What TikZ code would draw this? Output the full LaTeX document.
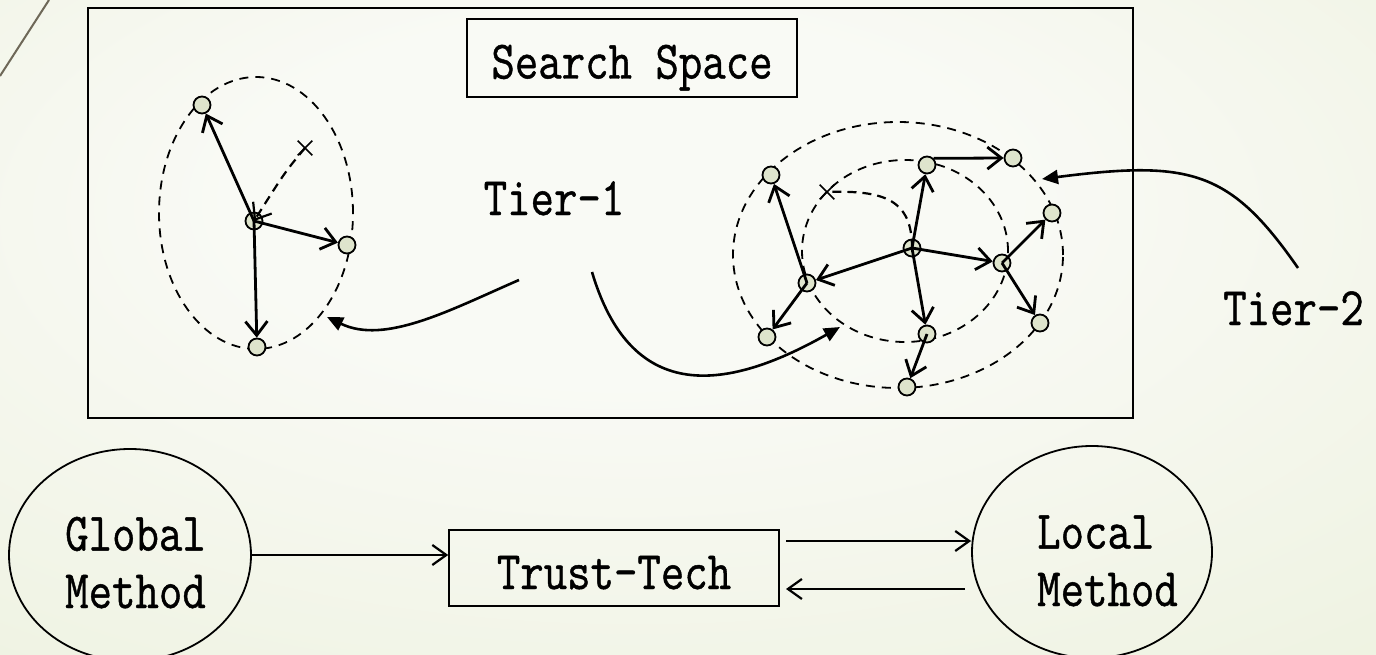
\documentclass[tikz,border=0pt]{standalone}
\usepackage{fontspec}
\usepackage{graphicx}
\usetikzlibrary{arrows.meta,shapes.geometric,shapes.misc,calc}
\newfontfamily\labelfont{Latin Modern Mono}[FakeBold=0.9]
\newcommand{\tallbox}[1]{\scalebox{1}[1.19]{#1}}
% two stacked lines, the lower baseline sits on the node's base
\newcommand{\twolines}[3]{\tallbox{\parbox[b]{160pt}{\raggedright\baselineskip=#3 #1\\#2}}}
\definecolor{bgouter}{RGB}{224,232,199}
\definecolor{bginner}{RGB}{249,250,245}
\definecolor{dotfill}{RGB}{222,228,204}
\pgfdeclareradialshading{bgglow}{\pgfpoint{-3bp}{12bp}}{%
  color(0bp)=(bginner); color(14bp)=(bginner); color(78bp)=(bgouter)}
\tikzset{
  dot/.style={circle,draw,line width=1.8pt,fill=dotfill,minimum size=17pt,inner sep=0pt},
  link/.style={line width=2.8pt,-{Straight Barb[length=14pt,width=22pt]}},
  trail/.style={line width=2.2pt,dash pattern=on 9pt off 6pt},
  zone/.style={line width=1.8pt,dash pattern=on 9pt off 7pt},
  miss/.style={cross out,draw,line width=1.6pt,minimum size=13pt,inner sep=0pt},
  txt/.style={font=\fontsize{45.5}{50}\selectfont\labelfont,inner sep=0pt},
  pointer/.style={line width=2.6pt,-{Triangle[length=16pt,width=14pt]}},
  flow/.style={line width=2.2pt,-{Straight Barb[length=14pt,width=20pt]}},
}
\begin{document}
\begin{tikzpicture}[x=1pt,y=-1pt]
\useasboundingbox (0,0) rectangle (1376,655);
% backdrop
\shade[shading=bgglow] (0,0) rectangle (1376,655);
\draw[line width=2pt,color={rgb,255:red,110;green,104;blue,88}] (49,0) -- (0,76);

% search space frame
\draw[line width=2pt] (88,8) rectangle (1133,418);
\node[txt,draw,line width=1.6pt,anchor=base,minimum width=330pt,text height=59.5pt,text depth=18.5pt] (space) at (632,78.5) {\tallbox{Search Space}};

% first cluster
\draw[zone] (256,213) ellipse [x radius=97pt, y radius=136pt];
\node[dot] (a1) at (202,105) {};
\node[dot] (a2) at (347,245) {};
\node[dot] (a3) at (257,347) {};
\node[dot] (a0) at (254,221) {};
\node[miss] (ax) at (305,148) {};
\draw[link] (a0.center) -- (a1);
\draw[link] (a0.center) -- (a2);
\draw[link] (a0.center) -- (a3);
\draw[trail,-{Straight Barb[length=14pt,width=22pt]}] (ax.center) .. controls (285,172) .. (a0.center);

% second cluster
\draw[zone] (898,255) ellipse [x radius=165pt, y radius=133pt];
\draw[zone] (905,251) ellipse [x radius=103pt, y radius=91pt];
\node[dot] (b0) at (912,248) {};
\node[dot] (b1) at (807,283) {};
\node[dot] (b2) at (771,175) {};
\node[dot] (b3) at (767,337) {};
\node[dot] (b4) at (927,165) {};
\node[dot] (b5) at (1013,158) {};
\node[dot] (b6) at (1002,263) {};
\node[dot] (b7) at (1052,213) {};
\node[dot] (b8) at (1040,323) {};
\node[dot] (b9) at (927,334) {};
\node[dot] (b10) at (907,387) {};
\node[miss] (bx) at (827,192) {};
\draw[trail] (b0.center) .. controls (912,200) and (885,190) .. (bx.center);
\draw[link] (b0.center) -- (b1);
\draw[link] (b0.center) -- (b4);
\draw[link] (b0.center) -- (b6);
\draw[link] (b0.center) -- (b9);
\draw[link] (b1.center) -- (b2);
\draw[link] (b1.center) -- (b3);
\draw[link] (b4.north east) -- (b5.west);
\draw[link] (b6.center) -- (b7);
\draw[link] (b6.center) -- (b8);
\draw[link] (b9.center) -- (b10);

% tier labels and their pointers
\node[txt,anchor=base] (tier1) at (554,215) {\tallbox{Tier-1}};
\node[txt,anchor=base west] (tier2) at (1223,325) {\tallbox{Tier-2}};
\coordinate (t1l) at (519,280);
\coordinate (t1r) at (592,272);
\coordinate (t2s) at (1298,268);
\coordinate (hitA) at (327,317);
\coordinate (hitB) at (840,327);
\coordinate (hitC) at (1042,179);
\draw[pointer] (t1l) .. controls (450,310) and (385,345) .. (hitA);
\draw[pointer] (t1r) .. controls (630,400) and (720,395) .. (hitB);
\draw[pointer] (t2s) .. controls (1230,170) and (1190,160) .. (hitC);

% method pipeline
\node[ellipse,draw,line width=1.8pt,minimum width=242pt,minimum height=212pt,inner sep=0pt] (glob) at (130,555) {};
\node[txt,anchor=base west] (globtext) at (65,608) {\twolines{Global}{Method}{48.3pt}};
\node[txt,draw,line width=1.6pt,anchor=base,minimum width=330pt,text height=59.3pt,text depth=16.7pt] (trust) at (614,589) {\tallbox{Trust-Tech}};
\node[ellipse,draw,line width=1.8pt,minimum width=240pt,minimum height=212pt,inner sep=0pt] (loc) at (1092,552) {};
\node[txt,anchor=base west] (loctext) at (1037,606) {\twolines{Local}{Method}{48.3pt}};
\coordinate (up) at (786,541);
\coordinate (down) at (786,589);
\draw[flow] (glob.east) -- (glob.east -| trust.west);
\draw[flow] (up) -- (up -| loc.west);
\draw[flow] ([xshift=-6pt]down -| loc.west) -- (down);
\end{tikzpicture}
\end{document}
